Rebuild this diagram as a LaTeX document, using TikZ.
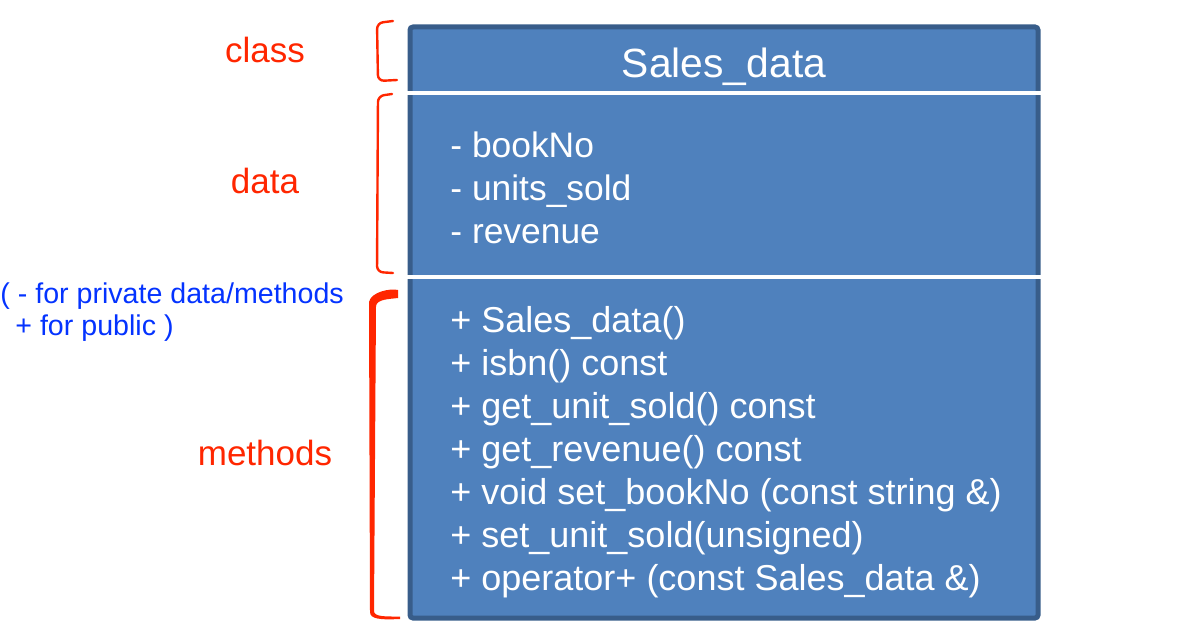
\documentclass[tikz,border=0pt]{standalone}
\usepackage{fontspec}
\setmainfont{Liberation Sans}
\definecolor{boxfill}{RGB}{79,129,189}
\definecolor{boxline}{RGB}{56,93,138}
\definecolor{notered}{RGB}{255,38,0}
\definecolor{noteblue}{RGB}{4,51,255}

\begin{document}
\begin{tikzpicture}[x=0.5pt, y=-0.5pt]
	\tikzset{classbox/.style={draw=boxline, fill=boxfill, line width=2.5pt, rounded corners=1.5pt, minimum width=314pt, minimum height=295.5pt, inner sep=0pt}};
	\tikzset{divider/.style={white, line width=2pt}};
	\tikzset{title/.style={anchor=base, inner sep=0pt, text=white, font=\fontsize{20.4}{24}\selectfont}};
	\tikzset{member/.style={anchor=base west, inner sep=0pt, text=white, font=\fontsize{17.7}{21}\selectfont}};
	\tikzset{method/.style={member, font=\fontsize{18}{21}\selectfont}};
	\tikzset{note/.style={anchor=base, inner sep=0pt, text=notered, font=\fontsize{17.5}{21}\selectfont}};
	\tikzset{remark/.style={anchor=base west, inner sep=0pt, text=noteblue, font=\fontsize{14.3}{17}\selectfont}};
	\tikzset{bracket/.style={notered, line width=1.2pt, line cap=round, line join=round, rounded corners=3pt}};

	\useasboundingbox (0,0) rectangle (1182,642);

	% the class box
	\node[classbox] (cls) at (724,322.5) {};
	\draw[divider] (407,93) -- (1041,93);
	\draw[divider] (407,277) -- (1041,277);

	\node[title] (name) at (724,78) {Sales\_data};

	\node[member] (d1) at (450,157) {- bookNo};
	\node[member] (d2) at (450,200) {- units\_sold};
	\node[member] (d3) at (450,243) {- revenue};

	\node[method] (m1) at (450,332) {+ Sales\_data()};
	\node[method] (m2) at (450,375) {+ isbn() const};
	\node[method] (m3) at (450,418) {+ get\_unit\_sold() const};
	\node[method] (m4) at (450,461) {+ get\_revenue() const};
	\node[method] (m5) at (450,504) {+ void set\_bookNo (const string \&)};
	\node[method] (m6) at (450,547) {+ set\_unit\_sold(unsigned)};
	\node[method] (m7) at (450,590) {+ operator+ (const Sales\_data \&)};

	% labels on the left
	\node[note] (lclass) at (265,63) {class};
	\node[note] (ldata) at (265,193) {data};
	\node[note] (lmethods) at (265,465) {methods};

	\node[remark] (r1) at (0,303) {( - for private data/methods};
	\node[remark] (r2) at (15,335) {+ for public )};

	% brackets
	\draw[bracket] (393,21) -- (377,23) -- (378,81) -- (397,80);
	\draw[bracket] (392,94) -- (378,96) -- (377,272) -- (393,273);
	\fill[notered] (398,290) .. controls (390,288) and (371,292) .. (369,302) -- (370,612)
		.. controls (370,619) and (380,620) .. (400,619) -- (400,616.5)
		.. controls (386,616.5) and (374,617) .. (374,611) -- (376,306)
		.. controls (377,299) and (390,299) .. (398,298) -- cycle;
\end{tikzpicture}
\end{document}
